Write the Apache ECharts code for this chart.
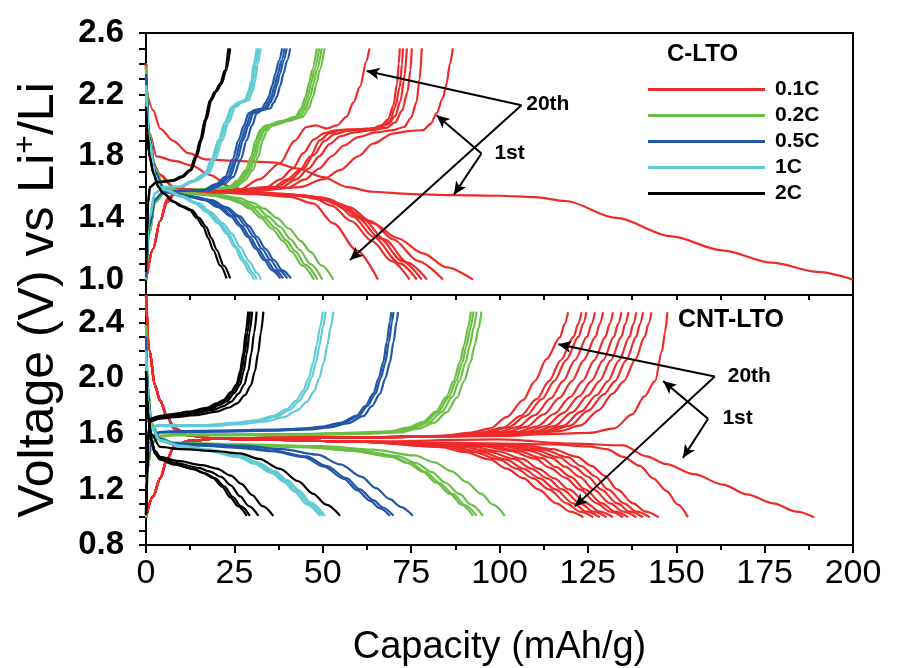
<!DOCTYPE html>
<html lang="en">
<head>
<meta charset="UTF-8">
<title>C-LTO / CNT-LTO charge-discharge</title>
<script src="https://cdn.jsdelivr.net/npm/echarts@6.0.0/dist/echarts.min.js"></script>
<style>
  html, body { margin: 0; padding: 0; background: #fff; }
  #chart { width: 906px; height: 668px; }
</style>
</head>
<body>
<div id="chart"></div>
<script>
// rate names + colours
const rates = ['0.1C', '0.2C', '0.5C', '1C', '2C'];
const rateColors = ['#ee2b2b', '#6abf45', '#2157a8', '#5fcbd5', '#000000'];

// tick labels
const xTickLabels = [0, 25, 50, 75, 100, 125, 150, 175, 200];
const yLabelsTop = ['1.0', '1.4', '1.8', '2.2', '2.6'];
const yLabelsBottom = ['0.8', '1.2', '1.6', '2.0', '2.4'];

// ---------- C-LTO (top panel), [capacity mAh/g, voltage V] ----------
const topRedCharge = [
  [[0,1.0],[2,1.2],[4,1.38],[6,1.52],[8,1.56],[15,1.57],[20,1.575],[26.6,1.585],[32,1.65],[37.9,1.755],[42,1.9],[45.4,1.99],[48,2.0],[51.1,1.98],[54,2.0],[56.7,2.056],[58.7,2.15],[60.5,2.25],[62.4,2.42],[63.2,2.5]],
  [[0,1.0],[2,1.2],[4,1.38],[6,1.52],[8,1.56],[15,1.57],[25,1.58],[34,1.6],[38,1.65],[41.5,1.72],[44.5,1.82],[47.5,1.91],[50.5,1.95],[54,1.97],[60,1.975],[64,1.98],[66.5,2.0],[68.5,2.04],[70,2.13],[71,2.27],[71.5,2.4],[71.8,2.5]],
  [[0,1.0],[2,1.2],[4,1.38],[6,1.52],[8,1.56],[15,1.57],[25,1.58],[36,1.6],[40,1.65],[43.5,1.71],[46.5,1.8],[49.2,1.905],[52,1.95],[54.9,1.97],[60,1.975],[64.3,1.98],[67,2.0],[69,2.03],[70.5,2.12],[71.8,2.25],[72.4,2.4],[72.7,2.5]],
  [[0,1.0],[2,1.2],[4,1.38],[6,1.52],[8,1.56],[15,1.57],[25,1.58],[37,1.6],[41,1.65],[44.5,1.72],[47.5,1.81],[50.5,1.9],[53.5,1.945],[57,1.965],[62,1.975],[66,1.985],[68.5,2.01],[70.5,2.06],[72,2.16],[73,2.3],[73.8,2.5]],
  [[0,1.0],[2,1.2],[4,1.38],[6,1.52],[8,1.555],[15,1.565],[25,1.575],[38,1.595],[42.5,1.65],[46,1.72],[49,1.8],[52,1.88],[55,1.93],[59,1.955],[64,1.97],[68,1.985],[70.5,2.02],[72.5,2.1],[74,2.22],[74.8,2.36],[75.2,2.5]],
  [[0,1.0],[2,1.2],[4,1.38],[6,1.52],[8,1.555],[15,1.565],[28,1.575],[40,1.595],[45,1.65],[49,1.72],[52.5,1.8],[56,1.87],[60,1.925],[65,1.955],[70,1.97],[73,1.99],[75,2.05],[76.5,2.15],[77.4,2.3],[78,2.5]],
  [[0,1.0],[2,1.2],[4,1.38],[6,1.5],[8,1.55],[15,1.56],[30,1.575],[43.5,1.6],[50,1.65],[54.9,1.71],[60,1.8],[64.3,1.883],[69.9,1.948],[75,1.965],[78.4,1.97],[80.5,2.01],[82.2,2.08],[84,2.18],[85,2.27],[86,2.4],[86.8,2.5]]
];
const topRedDischarge = [
  [[0,2.25],[2,2.1],[4,1.98],[7.7,1.9],[12,1.82],[17,1.78],[25,1.77],[36,1.76],[43,1.72],[50,1.665],[57,1.6],[64,1.57],[75,1.555],[86.6,1.548],[100,1.544],[110,1.535],[118.7,1.51],[133,1.4],[148.7,1.28],[163,1.19],[177,1.11],[190,1.05],[200,1.0]],
  [[0,2.4],[0.3,2.0],[1,1.8],[4,1.68],[7.7,1.6],[12,1.58],[20,1.565],[30,1.555],[40.7,1.537],[47.3,1.494],[53,1.365],[59.6,1.19],[65.6,1.0]],
  [[0,2.4],[0.3,2.0],[1,1.8],[4,1.68],[7.7,1.6],[12,1.585],[20,1.57],[30,1.56],[40,1.55],[47,1.535],[52.5,1.48],[58,1.38],[64,1.25],[69.5,1.12],[74.6,1.0]],
  [[0,2.4],[0.3,2.0],[1,1.8],[4,1.68],[7.7,1.6],[12,1.585],[20,1.57],[30,1.56],[40,1.55],[48,1.535],[54,1.49],[58.6,1.408],[64.3,1.278],[71.8,1.105],[76.6,1.0]],
  [[0,2.4],[0.3,2.0],[1,1.8],[4,1.68],[7.7,1.6],[12,1.585],[20,1.57],[30,1.56],[42,1.55],[49,1.535],[55,1.49],[60,1.4],[66,1.27],[72.5,1.12],[78,1.0]],
  [[0,2.4],[0.3,2.0],[1,1.8],[4,1.68],[7.7,1.6],[12,1.58],[20,1.568],[32,1.558],[43,1.548],[50,1.53],[56,1.48],[61.5,1.39],[67.5,1.26],[74,1.11],[79.5,1.0]],
  [[0,2.4],[0.3,2.0],[1,1.8],[4,1.68],[7.7,1.6],[12,1.58],[20,1.568],[32,1.558],[44,1.548],[51,1.525],[57.5,1.47],[63.5,1.38],[70,1.26],[77,1.12],[84,1.0]],
  [[0,2.3],[1,1.95],[3,1.8],[8,1.77],[13,1.74],[18,1.68],[24,1.6],[30,1.57],[40,1.555],[51,1.516],[57,1.45],[64.3,1.365],[71,1.27],[78.4,1.17],[85,1.08],[92.5,1.0]]
];
const topGreenCharge = [
  [[0,1.0],[1,1.3],[2.5,1.5],[5,1.56],[12,1.58],[19,1.59],[23.4,1.6],[25.8,1.64],[28.2,1.71],[29.8,1.8],[31,1.905],[32.3,1.97],[33.8,2.0],[38.6,2.03],[42.2,2.056],[43.9,2.11],[45.1,2.185],[46.2,2.28],[47,2.36],[48.3,2.5]],
  [[0,1.0],[1,1.3],[2.5,1.5],[5,1.56],[12,1.58],[19.5,1.59],[24,1.6],[26.4,1.64],[28.8,1.71],[30.4,1.8],[31.6,1.905],[32.9,1.97],[34.4,2.0],[39.2,2.03],[42.8,2.056],[44.5,2.11],[45.7,2.185],[46.8,2.28],[47.6,2.36],[49,2.5]],
  [[0,1.0],[1,1.3],[2.5,1.5],[5,1.56],[12.4,1.58],[20,1.59],[24.6,1.6],[27,1.64],[29.4,1.71],[31,1.8],[32.2,1.905],[33.5,1.97],[35,2.0],[39.8,2.03],[43.5,2.056],[45.2,2.11],[46.4,2.185],[47.5,2.28],[48.3,2.36],[49.7,2.5]],
  [[0,1.0],[1,1.3],[2.5,1.5],[5,1.56],[13,1.58],[21,1.59],[25.4,1.6],[27.8,1.64],[30.2,1.71],[31.8,1.8],[33,1.905],[34.3,1.97],[35.8,2.0],[40.6,2.03],[44.3,2.056],[46,2.11],[47.2,2.185],[48.3,2.28],[49.1,2.36],[50.5,2.5]]
];
const topGreenDischarge = [
  [[0,2.38],[1,1.95],[2.5,1.72],[5,1.6],[12,1.56],[19,1.545],[23,1.525],[26.2,1.5],[29.4,1.46],[32.5,1.4],[35.7,1.33],[38.8,1.25],[41.3,1.18],[44.2,1.09],[47.5,1.0]],
  [[0,2.38],[1,1.95],[2.5,1.72],[5,1.6],[12,1.56],[19.5,1.545],[23.8,1.526],[27,1.5],[30.2,1.465],[33.3,1.405],[36.6,1.335],[39.7,1.255],[42.2,1.185],[45.1,1.095],[48.5,1.0]],
  [[0,2.38],[1,1.95],[2.5,1.72],[5,1.6],[12.4,1.56],[20,1.545],[24.7,1.527],[28,1.5],[31.3,1.47],[34.5,1.41],[37.9,1.343],[41,1.26],[43.5,1.192],[46.5,1.1],[49.9,1.0]],
  [[0,2.38],[1,1.95],[2.5,1.72],[5,1.6],[13,1.56],[21,1.548],[26,1.53],[30,1.5],[33.5,1.46],[37,1.4],[40.5,1.33],[43.8,1.25],[46.5,1.18],[49.7,1.09],[53,1.0]]
];
const topBlueCharge = [
  [[0,1.02],[1,1.35],[2.5,1.52],[5,1.57],[10,1.575],[16,1.58],[19.8,1.62],[22.4,1.667],[24.5,1.78],[26.2,1.905],[27.7,2.0],[29,2.078],[30.7,2.1],[32.8,2.11],[33.9,2.15],[34.7,2.185],[35.7,2.26],[36.6,2.337],[37.6,2.42],[38.5,2.5]],
  [[0,1.02],[1,1.35],[2.5,1.52],[5,1.57],[10,1.575],[16.5,1.58],[20.4,1.62],[23.1,1.667],[25.2,1.78],[26.9,1.905],[28.4,2.0],[29.7,2.078],[31.4,2.1],[33.5,2.11],[34.6,2.15],[35.4,2.185],[36.4,2.26],[37.3,2.337],[38.3,2.42],[39.2,2.5]],
  [[0,1.02],[1,1.35],[2.5,1.52],[5,1.57],[10,1.575],[17,1.58],[21,1.62],[23.7,1.667],[25.8,1.78],[27.5,1.905],[29,2.0],[30.3,2.078],[32,2.1],[34.1,2.11],[35.2,2.15],[36,2.185],[37,2.26],[37.9,2.337],[38.9,2.42],[39.8,2.5]],
  [[0,1.02],[1,1.35],[2.5,1.52],[5,1.57],[10,1.575],[18,1.58],[22,1.62],[24.7,1.667],[26.8,1.78],[28.5,1.905],[30,2.0],[31.3,2.078],[33,2.1],[35.1,2.11],[36.2,2.15],[37,2.185],[38,2.26],[38.9,2.337],[39.9,2.42],[40.8,2.5]]
];
const topBlueDischarge = [
  [[0,2.33],[1,1.92],[2.5,1.7],[5,1.59],[7.5,1.56],[11.5,1.54],[16.6,1.516],[20.3,1.47],[24,1.41],[26.3,1.35],[28.7,1.278],[31,1.2],[33.4,1.127],[35.7,1.06],[38,1.008]],
  [[0,2.33],[1,1.92],[2.5,1.7],[5,1.59],[7.7,1.56],[12,1.54],[17.2,1.516],[21,1.47],[24.7,1.41],[27,1.35],[29.4,1.278],[31.7,1.2],[34.1,1.127],[36.5,1.06],[38.8,1.008]],
  [[0,2.33],[1,1.92],[2.5,1.7],[5,1.59],[8,1.56],[12.5,1.54],[18,1.516],[22,1.47],[25.8,1.41],[28.1,1.35],[30.5,1.278],[32.8,1.2],[35.2,1.127],[37.6,1.06],[40,1.008]],
  [[0,2.33],[1,1.92],[2.5,1.7],[5,1.59],[8.2,1.56],[13,1.54],[18.6,1.516],[22.7,1.47],[26.6,1.41],[29,1.35],[31.4,1.278],[33.8,1.2],[36.2,1.127],[38.6,1.06],[41,1.008]]
];
const topCyanCharge = [
  [[0,1.05],[1,1.4],[2.5,1.56],[5,1.6],[9.3,1.602],[13,1.64],[16.7,1.689],[18.5,1.78],[20.5,1.905],[22.3,2.02],[24.2,2.12],[26,2.15],[28,2.164],[29,2.22],[29.8,2.293],[30.5,2.4],[31.3,2.5]],
  [[0,1.05],[1,1.4],[2.5,1.56],[5,1.6],[9.6,1.602],[13.5,1.64],[17.2,1.689],[19,1.78],[21,1.905],[22.8,2.02],[24.7,2.12],[26.5,2.15],[28.5,2.164],[29.5,2.22],[30.3,2.293],[31,2.4],[31.8,2.5]],
  [[0,1.05],[1,1.4],[2.5,1.56],[5,1.6],[10,1.602],[14,1.64],[17.8,1.689],[19.6,1.78],[21.6,1.905],[23.4,2.02],[25.3,2.12],[27.1,2.15],[29.1,2.164],[30.1,2.22],[30.9,2.293],[31.6,2.4],[32.4,2.5]]
];
const topCyanDischarge = [
  [[0,2.26],[1,1.9],[2.5,1.68],[4,1.6],[5.6,1.58],[9.7,1.54],[13.9,1.494],[17,1.44],[20.4,1.365],[22.7,1.3],[25,1.213],[27.3,1.12],[29.5,1.041],[30.5,1.0]],
  [[0,2.26],[1,1.9],[2.5,1.68],[4,1.6],[5.8,1.58],[10,1.54],[14.3,1.494],[17.5,1.44],[21,1.365],[23.3,1.3],[25.6,1.213],[28,1.12],[30.3,1.041],[31.3,1.0]],
  [[0,2.26],[1,1.9],[2.5,1.68],[4,1.6],[6,1.58],[10.4,1.54],[14.9,1.494],[18.2,1.44],[21.8,1.365],[24.2,1.3],[26.6,1.213],[29.1,1.12],[31.5,1.041],[32.5,1.0]]
];
const topBlackCharge = [
  [[0,1.05],[0.3,1.3],[0.6,1.5],[1.1,1.6],[3,1.634],[7.7,1.645],[10,1.67],[12.4,1.71],[14,1.8],[15.3,1.905],[16.7,2.04],[18.1,2.164],[19.5,2.22],[21,2.272],[22.3,2.358],[23.3,2.5]],
  [[0,1.05],[0.3,1.3],[0.6,1.5],[1.1,1.6],[3,1.63],[7.7,1.64],[10.3,1.665],[12.8,1.71],[14.4,1.8],[15.7,1.905],[17.1,2.04],[18.5,2.164],[19.9,2.22],[21.4,2.272],[22.7,2.358],[23.8,2.5]]
];
const topBlackDischarge = [
  [[0,2.12],[0.4,1.95],[1,1.8],[2.1,1.689],[3.5,1.6],[4.9,1.559],[7.7,1.505],[10,1.475],[12.4,1.451],[14.3,1.4],[16.2,1.343],[17.6,1.27],[19,1.192],[21,1.09],[22.8,1.008]],
  [[0,2.12],[0.4,1.95],[1,1.8],[2.1,1.689],[3.5,1.6],[5,1.559],[8,1.505],[10.5,1.475],[13,1.451],[15,1.4],[17,1.343],[18.5,1.27],[20,1.192],[22,1.09],[23.8,1.008]]
];

// ---------- CNT-LTO (bottom panel) ----------
// red curves share the same start near 0 mAh/g, then split
const botRedChargeHead = [[0,1.0],[2,1.15],[4,1.28],[6,1.42],[8,1.51],[12,1.55],[20,1.565],[30,1.57],[60,1.575]];
const botRedChargeTails = [
  [[83.4,1.585],[92,1.61],[97.4,1.64],[102,1.72],[106.7,1.844],[110,1.98],[113.3,2.138],[117.1,2.295],[118.4,2.39],[119.4,2.476]],
  [[86,1.585],[95,1.61],[101,1.645],[106,1.73],[110.5,1.85],[114,1.98],[117.3,2.13],[121,2.3],[122.2,2.39],[123.2,2.476]],
  [[88,1.585],[97,1.612],[102.5,1.647],[107.5,1.73],[112,1.85],[115.5,1.98],[118.8,2.13],[122.4,2.3],[123.6,2.39],[124.6,2.476]],
  [[90,1.585],[99.5,1.612],[105,1.648],[110,1.735],[114.5,1.855],[118,1.98],[121.3,2.13],[124.8,2.3],[126,2.39],[127,2.476]],
  [[92,1.585],[102,1.613],[107.5,1.65],[112.5,1.74],[117,1.86],[120.5,1.98],[123.8,2.13],[127.2,2.3],[128.3,2.39],[129.3,2.476]],
  [[95,1.587],[105,1.614],[110.5,1.652],[115.5,1.745],[120,1.865],[123.5,1.98],[126.8,2.13],[130,2.3],[131.1,2.39],[132.1,2.476]],
  [[97,1.588],[107.5,1.615],[113,1.655],[118,1.75],[122.5,1.87],[126,1.98],[129.3,2.13],[132.4,2.3],[133.5,2.39],[134.5,2.476]],
  [[99,1.59],[110,1.616],[115.5,1.656],[120.5,1.755],[125,1.875],[128.3,1.98],[131.5,2.13],[134.5,2.3],[135.5,2.39],[136.5,2.476]],
  [[101,1.59],[112,1.617],[118,1.658],[123,1.76],[127.5,1.88],[130.7,1.98],[133.8,2.13],[136.8,2.3],[137.8,2.39],[138.7,2.476]],
  [[103,1.59],[114,1.618],[120,1.66],[125,1.765],[129.5,1.885],[132.7,1.98],[135.8,2.13],[138.7,2.3],[139.7,2.39],[140.6,2.476]],
  [[105,1.59],[117,1.62],[123,1.662],[128,1.77],[132,1.89],[135.2,1.98],[138.3,2.13],[141.1,2.3],[142.1,2.39],[143,2.476]],
  [[100,1.585],[115,1.6],[125.5,1.607],[132.5,1.64],[137.5,1.74],[141,1.87],[144,1.98],[146,2.2],[146.8,2.33],[147.5,2.476]]
];
const botRedDischargeHead = [[0,2.6],[1,2.2],[2.5,1.95],[4,1.84],[6,1.72],[8,1.64],[12,1.59],[20,1.565],[30,1.56],[60,1.545]];
const botRedDischargeTails = [
  [[83.1,1.506],[90,1.47],[97.3,1.416],[102,1.35],[106.7,1.281],[111,1.2],[116.1,1.1],[120,1.04],[123.7,1.0]],
  [[85,1.505],[92.5,1.47],[100,1.415],[104.8,1.35],[109.5,1.28],[114,1.2],[119,1.1],[122.8,1.04],[126.5,1.0]],
  [[87,1.506],[94.5,1.47],[102,1.415],[106.7,1.35],[111.4,1.28],[115.8,1.2],[120.8,1.1],[124.7,1.04],[128.4,1.0]],
  [[89.5,1.508],[97,1.472],[104.3,1.418],[109,1.35],[113.5,1.28],[117.8,1.2],[122.8,1.1],[126.6,1.04],[130.3,1.0]],
  [[92,1.51],[99.5,1.475],[106.5,1.42],[111,1.35],[115.5,1.28],[119.7,1.2],[124.6,1.1],[128.4,1.04],[132.1,1.0]],
  [[95,1.512],[103,1.477],[110,1.422],[114.3,1.355],[118.6,1.285],[122.7,1.2],[127.5,1.1],[131.3,1.04],[135,1.0]],
  [[97,1.514],[105,1.48],[112,1.425],[116,1.36],[120.2,1.29],[124.2,1.2],[129,1.1],[132.7,1.04],[136.4,1.0]],
  [[100,1.515],[108,1.482],[114.7,1.428],[118.7,1.362],[122.7,1.29],[126.6,1.2],[131.3,1.1],[135,1.04],[138.7,1.0]],
  [[102,1.517],[110,1.485],[117,1.43],[121,1.365],[125,1.293],[128.7,1.2],[133.3,1.1],[136.9,1.04],[140.6,1.0]],
  [[104,1.518],[112.5,1.487],[119.3,1.432],[123.2,1.367],[127,1.295],[130.7,1.2],[135.2,1.1],[138.8,1.04],[142.5,1.0]],
  [[107,1.52],[115,1.49],[122,1.435],[126,1.37],[129.8,1.298],[133.3,1.2],[137.8,1.1],[141.3,1.04],[145,1.0]],
  [[115,1.525],[125,1.51],[130.3,1.49],[135,1.435],[139.7,1.37],[143.5,1.28],[147.2,1.19],[150.5,1.09],[153.3,1.0]],
  [[100,1.56],[120.8,1.53],[135,1.517],[141.6,1.438],[147.2,1.382],[155,1.31],[163.2,1.235],[170,1.165],[177.4,1.1],[184,1.04],[189,1.0]]
];
const botGreenCharge = [
  [[0,1.0],[0.5,1.35],[1.5,1.53],[4,1.585],[7.7,1.597],[25,1.597],[45.4,1.6],[60,1.61],[69,1.619],[74,1.645],[78.4,1.687],[82,1.76],[85,1.867],[87,1.98],[88.8,2.115],[90,2.24],[91.1,2.363],[91.9,2.48]],
  [[0,1.0],[0.5,1.35],[1.5,1.53],[4,1.585],[7.7,1.595],[25,1.595],[45.4,1.598],[60.5,1.607],[69.6,1.616],[74.6,1.642],[79,1.684],[82.7,1.76],[85.7,1.867],[87.7,1.98],[89.5,2.115],[90.7,2.24],[91.8,2.363],[92.6,2.48]],
  [[0,1.0],[0.5,1.35],[1.5,1.53],[4,1.58],[7.7,1.592],[25,1.592],[46,1.595],[61,1.604],[70.4,1.613],[75.5,1.64],[80,1.682],[83.6,1.756],[86.6,1.865],[88.6,1.98],[90.4,2.115],[91.6,2.24],[92.7,2.363],[93.5,2.48]],
  [[0,1.0],[0.5,1.35],[1.5,1.53],[4,1.58],[7.7,1.59],[25,1.59],[47,1.592],[62,1.6],[71.7,1.61],[77,1.637],[81.5,1.68],[85,1.755],[88,1.862],[90,1.98],[91.8,2.115],[93,2.24],[94.1,2.363],[94.9,2.48]]
];
const botGreenDischarge = [
  [[0,2.38],[0.5,1.95],[1.5,1.68],[4,1.56],[7.7,1.529],[25,1.52],[45.4,1.506],[58,1.48],[69,1.438],[74,1.39],[78.4,1.326],[82,1.25],[86,1.168],[89.3,1.09],[92.5,1.01]],
  [[0,2.38],[0.5,1.95],[1.5,1.68],[4,1.56],[7.7,1.527],[25,1.518],[46,1.503],[58.7,1.477],[69.8,1.435],[74.9,1.387],[79.3,1.323],[82.9,1.248],[86.9,1.166],[90.2,1.088],[93.5,1.01]],
  [[0,2.38],[0.5,1.95],[1.5,1.68],[4,1.565],[7.7,1.532],[25,1.522],[47,1.508],[60,1.482],[71.2,1.44],[76.4,1.39],[80.9,1.325],[84.6,1.25],[88.7,1.168],[92,1.09],[95.3,1.01]],
  [[0,2.38],[0.5,1.95],[1.5,1.68],[4,1.57],[7.7,1.538],[25,1.527],[50,1.512],[64,1.486],[76,1.445],[81.6,1.395],[86.5,1.33],[90.5,1.255],[94.8,1.17],[98.2,1.09],[101.5,1.01]]
];
const botBlueCharge = [
  [[0,1.05],[0.5,1.4],[1.5,1.57],[4,1.615],[7.7,1.619],[20,1.624],[36,1.63],[45,1.64],[50.1,1.653],[55,1.68],[59.6,1.732],[62,1.8],[64.3,1.89],[65.8,2.0],[67.1,2.115],[68.1,2.26],[69,2.408],[69.4,2.476]],
  [[0,1.05],[0.5,1.4],[1.5,1.57],[4,1.612],[7.7,1.616],[20,1.62],[36,1.627],[45.5,1.637],[50.7,1.65],[55.6,1.677],[60.2,1.73],[62.6,1.8],[64.9,1.89],[66.4,2.0],[67.7,2.115],[68.7,2.26],[69.6,2.408],[70,2.476]],
  [[0,1.05],[0.5,1.4],[1.5,1.57],[4,1.61],[7.7,1.613],[20,1.617],[37,1.623],[46.5,1.633],[52,1.647],[57,1.675],[61.5,1.728],[63.9,1.8],[66.2,1.89],[67.7,2.0],[69,2.115],[70,2.26],[70.9,2.408],[71.3,2.476]]
];
const botBlueDischarge = [
  [[0,2.3],[0.5,1.9],[1.5,1.65],[4,1.555],[7.7,1.525],[15,1.516],[26,1.5],[35.5,1.475],[44.7,1.433],[50.3,1.365],[56,1.276],[59.7,1.195],[63.4,1.118],[66.1,1.065],[69,1.01]],
  [[0,2.3],[0.5,1.9],[1.5,1.65],[4,1.56],[7.7,1.529],[15,1.52],[26.6,1.506],[36,1.48],[45.4,1.438],[51,1.37],[56.7,1.281],[60.5,1.2],[64.3,1.123],[67,1.07],[70,1.01]],
  [[0,2.3],[0.5,1.9],[1.5,1.65],[4,1.565],[7.7,1.535],[16,1.526],[28,1.513],[38.5,1.49],[48.5,1.45],[55,1.38],[61,1.29],[65,1.21],[69,1.13],[72,1.075],[75.5,1.01]]
];
const botCyanCharge = [
  [[0,1.05],[0.5,1.45],[1.2,1.62],[3,1.664],[10,1.664],[17.2,1.664],[25,1.68],[31.3,1.698],[36,1.73],[39.8,1.777],[42.5,1.84],[44.5,1.912],[46,2.0],[47.3,2.115],[48.3,2.24],[49.2,2.363],[50,2.48]],
  [[0,1.05],[0.5,1.45],[1.2,1.62],[3,1.66],[10,1.66],[17.5,1.66],[25.5,1.675],[32,1.693],[36.8,1.725],[40.6,1.772],[43.3,1.835],[45.3,1.91],[46.8,2.0],[48.1,2.115],[49.1,2.24],[50,2.363],[50.8,2.48]],
  [[0,1.05],[0.5,1.45],[1.2,1.62],[3,1.655],[10,1.655],[18,1.655],[27,1.67],[34,1.69],[39,1.72],[42.8,1.77],[45.5,1.83],[47.5,1.905],[49,2.0],[50.3,2.115],[51.3,2.24],[52.2,2.363],[53,2.48]]
];
const botCyanDischarge = [
  [[0,2.2],[0.5,1.85],[1.5,1.65],[4,1.55],[10,1.505],[17,1.48],[26.2,1.433],[30.5,1.385],[35.5,1.32],[39,1.255],[42,1.185],[45.4,1.095],[49.2,1.01]],
  [[0,2.2],[0.5,1.85],[1.5,1.65],[4,1.55],[10,1.51],[17.2,1.484],[26.6,1.438],[31,1.39],[36,1.326],[39.5,1.26],[42.6,1.19],[46,1.1],[49.9,1.01]],
  [[0,2.2],[0.5,1.85],[1.5,1.65],[4,1.555],[10,1.515],[17.5,1.488],[27,1.443],[31.5,1.395],[36.6,1.33],[40.1,1.265],[43.2,1.195],[46.6,1.105],[50.6,1.01]]
];
const botBlackCharge = [
  [[0,1.02],[0.3,1.3],[0.6,1.55],[1.1,1.709],[4,1.73],[7.7,1.743],[12,1.76],[17.2,1.788],[20,1.82],[21.9,1.844],[24,1.9],[25.6,1.957],[26.6,2.05],[27.5,2.18],[28.2,2.33],[28.9,2.48]],
  [[0,1.02],[0.3,1.3],[0.6,1.55],[1.1,1.7],[4,1.725],[7.7,1.738],[12,1.755],[17.5,1.783],[20.4,1.815],[22.3,1.84],[24.4,1.9],[26,1.957],[27,2.05],[27.9,2.18],[28.7,2.33],[29.4,2.48]],
  [[0,1.02],[0.3,1.3],[0.6,1.55],[1.1,1.7],[4,1.72],[8,1.735],[12.5,1.75],[18,1.778],[21,1.81],[22.9,1.835],[25,1.895],[26.6,1.955],[27.6,2.05],[28.5,2.18],[29.3,2.33],[30,2.48]],
  [[0,1.02],[0.3,1.3],[0.6,1.55],[1.1,1.69],[4,1.715],[8,1.73],[13,1.745],[19,1.772],[22,1.8],[24,1.83],[26.2,1.89],[27.8,1.955],[28.9,2.05],[29.8,2.18],[30.6,2.33],[31.3,2.48]],
  [[0,1.02],[0.3,1.3],[0.6,1.55],[1.1,1.69],[4,1.71],[8,1.72],[14,1.735],[20,1.76],[23.5,1.79],[25.8,1.82],[28,1.88],[29.7,1.95],[30.8,2.05],[31.7,2.18],[32.5,2.33],[33.2,2.48]]
];
const botBlackDischarge = [
  [[0,2.05],[0.3,1.85],[0.7,1.7],[1.5,1.55],[2.5,1.46],[4,1.416],[7.7,1.382],[13.4,1.348],[16,1.32],[19,1.281],[21.5,1.22],[23.8,1.145],[26,1.08],[28.5,1.01]],
  [[0,2.05],[0.3,1.85],[0.7,1.7],[1.5,1.55],[2.5,1.46],[4,1.416],[8,1.38],[13.8,1.345],[16.5,1.318],[19.6,1.28],[22.2,1.22],[24.6,1.145],[26.8,1.08],[29.4,1.01]],
  [[0,2.05],[0.3,1.85],[0.7,1.7],[1.5,1.56],[2.5,1.47],[4,1.425],[8.5,1.39],[15,1.355],[18,1.33],[21.3,1.29],[24,1.23],[26.6,1.15],[29.1,1.08],[31.8,1.01]],
  [[0,2.05],[0.3,1.85],[0.7,1.7],[1.5,1.56],[2.5,1.48],[4,1.435],[9,1.405],[16,1.375],[20,1.35],[24,1.3],[27,1.24],[30,1.16],[33,1.08],[36,1.01]],
  [[0,2.0],[0.5,1.75],[1.5,1.6],[4,1.506],[10,1.49],[20,1.475],[26.6,1.46],[32,1.42],[37.9,1.348],[43,1.26],[47.3,1.168],[51,1.09],[54.9,1.01]]
];

// annotation arrows: [from, to] in data coords
const topArrows = [
  [[106.2,2.131],[62.4,2.354]],
  [[106.2,2.131],[57.7,1.127]],
  [[94.9,1.818],[82.2,2.067]],
  [[94.9,1.818],[87.1,1.551]]
];
const topNotes = [['20th',[107,2.14]], ['1st',[98,1.82]]];
const botArrows = [
  [[160.9,2.013],[116.6,2.246]],
  [[160.9,2.013],[121.3,1.078]],
  [[159,1.709],[146.3,1.98]],
  [[159,1.709],[151.9,1.4275]]
];
const botNotes = [['20th',[164,2.016]], ['1st',[162.5,1.71]]];

const FONT = "'Liberation Sans', Arial, Helvetica, sans-serif";

const series = [];
function addCurves(curves, rateIdx, panel) {
  curves.forEach(function (c) {
    series.push({
      type: 'line',
      name: rates[rateIdx],
      xAxisIndex: panel,
      yAxisIndex: panel,
      data: c,
      symbol: 'none',
      showSymbol: false,
      smooth: 0.3,
      smoothMonotone: 'x',
      silent: true,
      lineStyle: { color: rateColors[rateIdx], width: 2.2 },
      itemStyle: { color: rateColors[rateIdx] }
    });
  });
}

// top panel
addCurves(topRedDischarge, 0, 0);
addCurves(topRedCharge, 0, 0);
addCurves(topGreenDischarge, 1, 0);
addCurves(topGreenCharge, 1, 0);
addCurves(topBlueDischarge, 2, 0);
addCurves(topBlueCharge, 2, 0);
addCurves(topCyanDischarge, 3, 0);
addCurves(topCyanCharge, 3, 0);
addCurves(topBlackDischarge, 4, 0);
addCurves(topBlackCharge, 4, 0);

// bottom panel
addCurves(botRedDischargeTails.map(t => botRedDischargeHead.concat(t)), 0, 1);
addCurves(botRedChargeTails.map(t => botRedChargeHead.concat(t)), 0, 1);
addCurves(botGreenDischarge, 1, 1);
addCurves(botGreenCharge, 1, 1);
addCurves(botBlueDischarge, 2, 1);
addCurves(botBlueCharge, 2, 1);
addCurves(botCyanDischarge, 3, 1);
addCurves(botCyanCharge, 3, 1);
addCurves(botBlackDischarge, 4, 1);
addCurves(botBlackCharge, 4, 1);

function notesSeries(panel, arrows, notes) {
  return {
    type: 'line',
    name: 'notes' + panel,
    xAxisIndex: panel,
    yAxisIndex: panel,
    data: [],
    silent: true,
    z: 5,
    markLine: {
      silent: true,
      symbol: ['none', 'arrow'],
      symbolSize: [9, 13],
      lineStyle: { color: '#000', width: 2, type: 'solid' },
      label: { show: false },
      data: arrows.map(a => [{ coord: a[0] }, { coord: a[1] }])
    },
    markPoint: {
      silent: true,
      symbol: 'circle',
      symbolSize: 0,
      itemStyle: { color: 'transparent' },
      label: {
        show: true, position: 'right', distance: 2,
        color: '#000', fontSize: 21, fontWeight: 'bold', fontFamily: FONT,
        formatter: p => p.name
      },
      data: notes.map(n => ({ name: n[0], coord: n[1] }))
    }
  };
}
series.push(notesSeries(0, topArrows, topNotes));
series.push(notesSeries(1, botArrows, botNotes));

const axisBlack = { color: '#000', width: 2 };
function yAxisFor(panel, min, labels) {
  return {
    type: 'value', gridIndex: panel, min: min, max: 2.6, interval: 0.1,
    axisLine: { show: true, onZero: false, lineStyle: axisBlack },
    axisTick: { show: true, inside: false, length: 7, lineStyle: axisBlack },
    axisLabel: {
      margin: 22, fontSize: 33, fontWeight: 'bold', color: '#000', fontFamily: FONT,
      formatter: function (v) { const t = v.toFixed(1); return labels.indexOf(t) >= 0 ? t : ''; }
    },
    splitLine: { show: false }
  };
}

const option = {
  animation: false,
  backgroundColor: '#fff',
  grid: [
    { left: 146, right: 53, top: 33, height: 262, show: true, borderColor: '#000', borderWidth: 2 },
    { left: 146, right: 53, top: 295, height: 266, show: true, borderColor: '#000', borderWidth: 2 }
  ],
  xAxis: [
    {
      type: 'value', gridIndex: 0, min: 0, max: 200, interval: 12.5,
      axisLine: { onZero: false, lineStyle: axisBlack },
      axisTick: { length: 5, lineStyle: axisBlack },
      axisLabel: { show: false },
      splitLine: { show: false }
    },
    {
      type: 'value', gridIndex: 1, min: 0, max: 200, interval: 25,
      axisLine: { onZero: false, lineStyle: axisBlack },
      axisTick: { length: 8, lineStyle: axisBlack },
      minorTick: { show: true, splitNumber: 2, length: 5, lineStyle: axisBlack },
      minorSplitLine: { show: false },
      axisLabel: {
        margin: 12, fontSize: 34, color: '#000', fontFamily: FONT,
        formatter: v => (xTickLabels.indexOf(Math.round(v)) >= 0 ? String(Math.round(v)) : '')
      },
      splitLine: { show: false },
      name: 'Capacity (mAh/g)',
      nameLocation: 'middle',
      nameGap: 84,
      nameTextStyle: { fontSize: 38, color: '#000', fontFamily: FONT }
    }
  ],
  yAxis: [yAxisFor(0, 0.9, yLabelsTop), yAxisFor(1, 0.8, yLabelsBottom)],
  legend: {
    data: rates,
    orient: 'vertical',
    left: 643,
    top: 74,
    itemWidth: 117,
    itemHeight: 3,
    itemGap: 5,
    icon: 'rect',
    selectedMode: false,
    textStyle: { fontSize: 21, fontWeight: 'bold', color: '#000', fontFamily: FONT, lineHeight: 21, padding: [0, 0, 0, 5] }
  },
  graphic: [
    { type: 'text', left: 667, top: 42, style: { text: 'C-LTO', font: 'bold 24px ' + FONT, fill: '#000' } },
    { type: 'text', left: 678, top: 308, style: { text: 'CNT-LTO', font: 'bold 25px ' + FONT, fill: '#000' } },
    {
      type: 'text', x: 37, y: 300, rotation: Math.PI / 2,
      style: {
        text: '{m|Voltage (V) vs Li}{s|+}{m|/Li}',
        align: 'center', verticalAlign: 'middle', fill: '#000',
        rich: {
          m: { fontSize: 50, fontFamily: FONT, fill: '#000', color: '#000', lineHeight: 54, verticalAlign: 'bottom' },
          s: { fontSize: 32, fontFamily: FONT, fill: '#000', color: '#000', lineHeight: 54, verticalAlign: 'top', padding: [0, 0, 18, 0] }
        }
      }
    }
  ],
  series: series
};

const chart = echarts.init(document.getElementById('chart'));
chart.setOption(option);
</script>
</body>
</html>
